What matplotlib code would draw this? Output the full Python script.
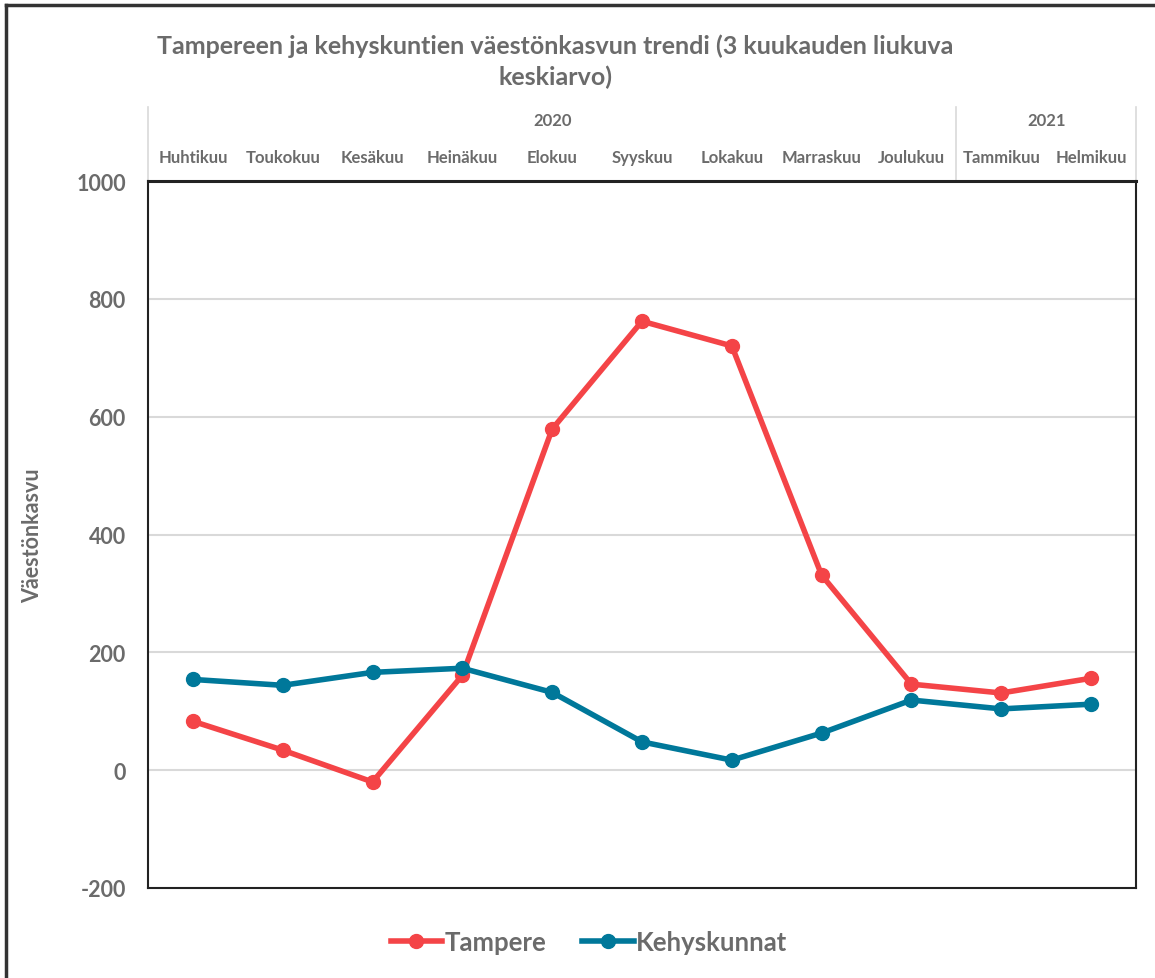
import matplotlib.pyplot as plt
from matplotlib.lines import Line2D

# ----------------------------
# Data
# ----------------------------
months = ['Huhtikuu', 'Toukokuu', 'Kesäkuu', 'Heinäkuu', 'Elokuu', 'Syyskuu',
          'Lokakuu', 'Marraskuu', 'Joulukuu', 'Tammikuu', 'Helmikuu']
years = ['2020', '2021']
months_per_year = [9, 2]
tampere = [83, 34, -20, 161, 579, 762, 720, 331, 146, 131, 156]
kehyskunnat = [154, 144, 166, 173, 132, 48, 17, 63, 119, 104, 112]
yticks = [-200, 0, 200, 400, 600, 800, 1000]

RED = '#f44447'
BLUE = '#00789a'
TXT = '#6b6b6b'
GRID = '#d9d9d9'
plt.rcParams['font.family'] = ['Lato', 'DejaVu Sans']

W, H = 1155, 979
fig = plt.figure(figsize=(W / 100, H / 100), dpi=100)
x0, x1, ytop, ybot = 148, 1136, 182, 889
ax = fig.add_axes([x0 / W, 1 - ybot / H, (x1 - x0) / W, (ybot - ytop) / H])
ppu = (ybot - ytop) / 1200  # pixels per data unit

xs = [i + 0.5 for i in range(len(months))]
ax.plot(xs, tampere, color=RED, lw=4, marker='o', ms=10, zorder=3)
ax.plot(xs, kehyskunnat, color=BLUE, lw=4, marker='o', ms=10, zorder=3)

ax.set_xlim(0, len(months))
ax.set_ylim(-200, 1000)
ax.set_yticks(yticks)
ax.set_yticklabels([str(v) for v in yticks], fontsize=15.5, fontweight='bold', color=TXT)
ax.tick_params(axis='y', length=0, pad=16)
ax.set_xticks([])
for v in yticks[1:-1]:
    ax.axhline(v, color=GRID, lw=1.5, zorder=1)
for s in ax.spines.values():
    s.set_color('#222222')
    s.set_linewidth(1.5)
ax.spines['top'].set_linewidth(2.2)

ax.set_ylabel('Väestönkasvu', fontsize=15.5, fontweight='bold', color=TXT)
ax.yaxis.set_label_coords((43 - x0) / (x1 - x0), 0.5)

# category labels above the plot
for x, m in zip(xs, months):
    ax.text(x, 1000 + 24 / ppu, m, ha='center', va='center', fontsize=12,
            fontweight='bold', color=TXT, clip_on=False)
start = 0
sep_top = 1000 + 74 / ppu
ax.plot([0, 0], [1000, sep_top], color=GRID, lw=1.2, clip_on=False)
for yr, n in zip(years, months_per_year):
    ax.text(start + n / 2, 1000 + 61 / ppu, yr, ha='center', va='center',
            fontsize=12, fontweight='bold', color=TXT, clip_on=False)
    start += n
    ax.plot([start, start], [1000, sep_top], color=GRID, lw=1.2, clip_on=False)

fig.text(555 / W, 1 - 62 / H,
         'Tampereen ja kehyskuntien väestönkasvun trendi (3 kuukauden liukuva\nkeskiarvo)',
         ha='center', va='center', fontsize=18, fontweight='bold', color=TXT,
         linespacing=1.38)

handles = [Line2D([], [], color=RED, lw=4, marker='o', ms=10),
           Line2D([], [], color=BLUE, lw=4, marker='o', ms=10)]
fig.legend(handles, ['Tampere', 'Kehyskunnat'], loc='center',
           bbox_to_anchor=(589 / W, 1 - 943 / H), ncol=2, frameon=False,
           prop={'size': 18.5, 'weight': 'bold'}, labelcolor=TXT,
           handlelength=2.0, handletextpad=0.1, columnspacing=1.4)

# outer frame
fig.add_artist(Line2D([6 / W, 6 / W], [0, 1 - 6 / H], color='#333333', lw=2.5))
fig.add_artist(Line2D([6 / W, 1], [1 - 6 / H, 1 - 6 / H], color='#333333', lw=2.5))

fig.savefig('out.png', dpi=100, facecolor='white')
